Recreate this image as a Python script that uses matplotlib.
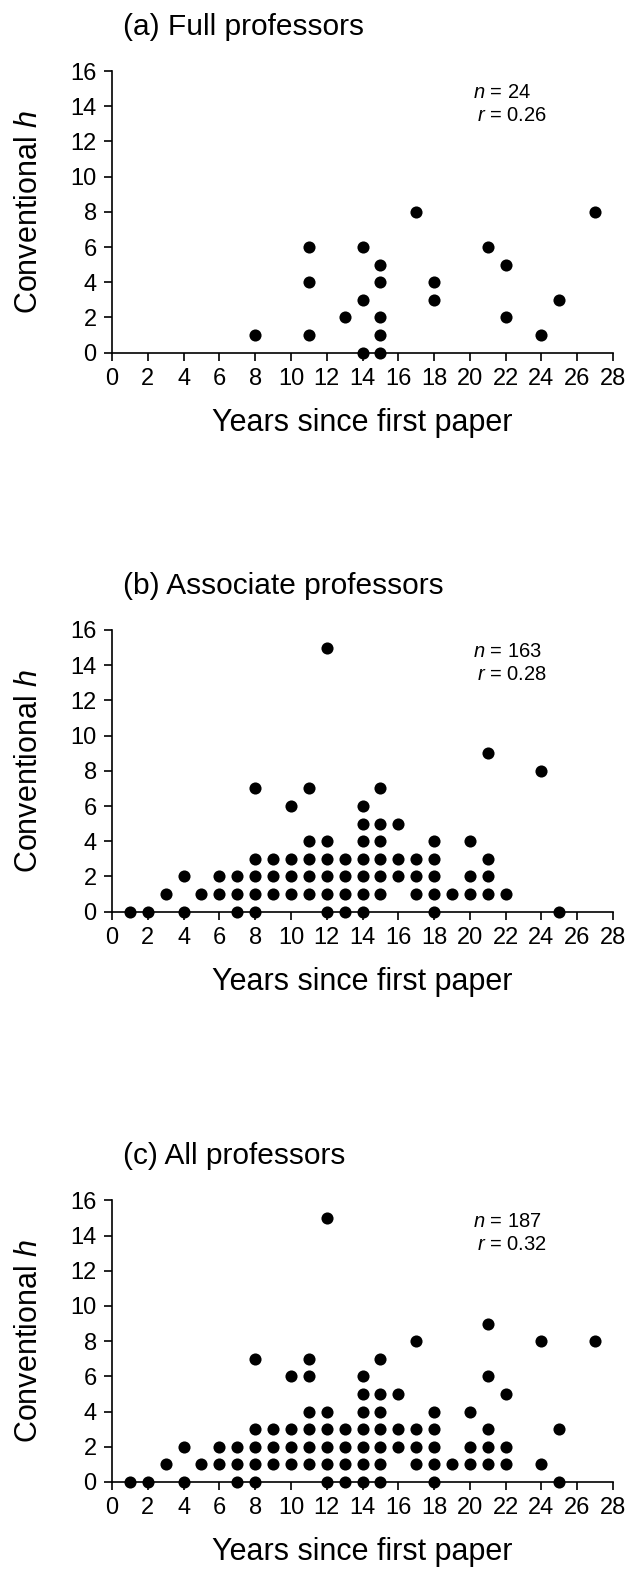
import matplotlib
matplotlib.use('Agg')
import matplotlib.pyplot as plt

plt.rcParams['font.family'] = ['Liberation Sans', 'DejaVu Sans']
plt.rcParams['mathtext.fontset'] = 'custom'
plt.rcParams['mathtext.rm'] = 'Liberation Sans'
plt.rcParams['mathtext.it'] = 'Liberation Sans:italic'

# ---------------------- DATA (years since first paper, conventional h) ----------------------

full_years = [8, 11, 11, 11, 13, 14, 14, 14, 15, 15, 15, 15, 15,
              17, 18, 18, 21, 22, 22, 24, 25, 27]
full_h = [1, 1, 4, 6, 2, 0, 3, 6, 0, 1, 2, 4, 5,
          8, 3, 4, 6, 2, 5, 1, 3, 8]

assoc_years = [1, 2, 4, 7, 8, 12, 13, 14, 18, 25,
               3, 5, 6, 7, 8, 9, 10, 11, 12, 13, 14, 15, 17, 18, 19, 20, 21, 22,
               4, 6, 7, 8, 9, 10, 11, 12, 13, 14, 15, 16, 17, 18, 20, 21,
               8, 9, 10, 11, 12, 13, 14, 15, 16, 17, 18, 21,
               11, 12, 14, 15, 18, 20,
               14, 15, 16,
               10, 14,
               8, 11, 15,
               24, 21, 12]
assoc_h = [0] * 10 + [1] * 18 + [2] * 16 + [3] * 12 + [4] * 6 + [5] * 3 + [6] * 2 + [7] * 3 + [8, 9, 15]

all_years = [1, 2, 4, 7, 8, 12, 13, 14, 15, 18, 25,
             3, 5, 6, 7, 8, 9, 10, 11, 12, 13, 14, 15, 17, 18, 19, 20, 21, 22, 24,
             4, 6, 7, 8, 9, 10, 11, 12, 13, 14, 15, 16, 17, 18, 20, 21, 22,
             8, 9, 10, 11, 12, 13, 14, 15, 16, 17, 18, 21, 25,
             11, 12, 14, 15, 18, 20,
             14, 15, 16, 22,
             10, 11, 14, 21,
             8, 11, 15,
             17, 24, 27,
             21, 12]
all_h = [0] * 11 + [1] * 19 + [2] * 17 + [3] * 13 + [4] * 6 + [5] * 4 + [6] * 4 + [7] * 3 + [8] * 3 + [9, 15]

titles = ['(a) Full professors', '(b) Associate professors', '(c) All professors']
n_labels = ['24', '163', '187']
r_labels = ['0.26', '0.28', '0.32']

# ---------------------- PLOT ----------------------

W, H = 629, 1570
fig = plt.figure(figsize=(W / 100, H / 100), dpi=100)

left = 112 / W
width = 501 / W
height = 281.7 / H
bottoms_px = [352.7, 911.7, 1482.0]

panels = [(full_years, full_h), (assoc_years, assoc_h), (all_years, all_h)]

for i, (xs, ys) in enumerate(panels):
    ax = fig.add_axes([left, 1 - bottoms_px[i] / H, width, height])
    ax.scatter(xs, ys, s=76, color='black', zorder=5, clip_on=False, linewidths=0)

    ax.set_xlim(0, 28)
    ax.set_ylim(0, 16)
    ax.set_xticks(range(0, 29, 2))
    ax.set_yticks(range(0, 17, 2))
    for side in ['top', 'right']:
        ax.spines[side].set_visible(False)
    for side in ['left', 'bottom']:
        ax.spines[side].set_linewidth(1.2)
    ax.tick_params(direction='out', length=6, width=1.2, labelsize=17, pad=5)

    ax.set_xlabel('Years since first paper', fontsize=22)
    ax.xaxis.set_label_coords(0.5, -0.195)
    ax.set_ylabel('Conventional $h$', fontsize=22)
    ax.yaxis.set_label_coords(-0.135, 0.5)

    ax.text(0.022, 1.156, titles[i], transform=ax.transAxes,
            fontsize=21.5, ha='left', va='center')
    ax.text(20.2, 14.8, '$n$ = ' + n_labels[i], fontsize=14.5, va='center')
    ax.text(20.4, 13.5, '$r$ = ' + r_labels[i], fontsize=14.5, va='center')

fig.savefig('out.png', dpi=100)
